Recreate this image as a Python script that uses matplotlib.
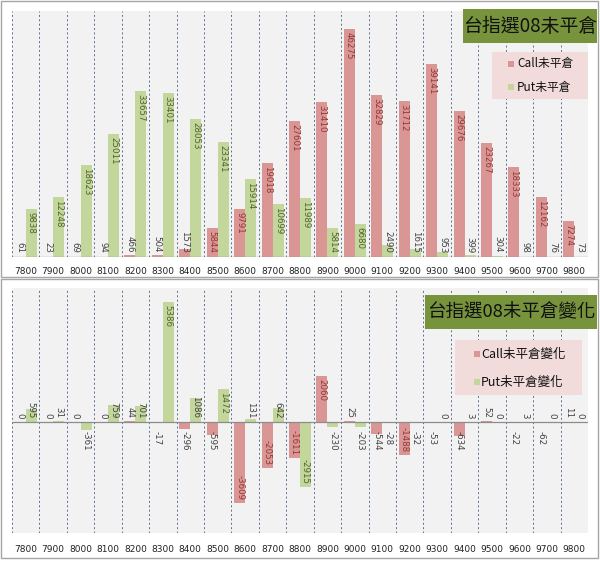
import matplotlib
matplotlib.use("Agg")
import matplotlib.pyplot as plt
from matplotlib.patches import Rectangle
import numpy as np

STRIKES = ["7800", "7900", "8000", "8100", "8200", "8300", "8400", "8500", "8600", "8700",
           "8800", "8900", "9000", "9100", "9200", "9300", "9400", "9500", "9600", "9700", "9800"]
CALL_OI = [61, 23, 69, 94, 466, 504, 1573, 5844, 9791, 19018,
           27601, 31410, 46275, 32829, 31712, 39141, 29676, 23267, 18333, 12162, 7274]
PUT_OI = [9838, 12248, 18623, 25011, 33657, 33401, 28053, 23341, 15914, 10699,
          11989, 5814, 6680, 2490, 1615, 953, 399, 304, 98, 76, 73]
CALL_CHG = [0, 0, 0, 0, 44, -17, -296, -595, -3609, -2053,
            -1611, 2060, 25, -544, -1488, -53, -634, 52, -22, -62, 11]
PUT_CHG = [595, 31, -361, 759, 701, 5386, 1086, 1472, 131, 642,
           -2915, -230, -203, -28, -32, 0, 3, 0, 3, 0, 0]

TITLE_TOP = "台指選08未平倉"
TITLE_BOTTOM = "台指選08未平倉變化"
LEGEND_TOP = ["Call未平倉", "Put未平倉"]
LEGEND_BOTTOM = ["Call未平倉變化", "Put未平倉變化"]

CALL_COLOR = "#DA9694"
PUT_COLOR = "#C3D69B"
CALL_TEXT = "#943634"
PUT_TEXT = "#4F6228"
PLAIN_TEXT = "#404040"
TITLE_FILL = "#77933C"
LEGEND_FILL = "#F2DCDB"
GRID_COLOR = "#5A6F8C"
CJK = ["Noto Sans CJK TC", "DejaVu Sans"]

W, H = 600, 563


def fig_rect(x0, y0, x1, y1):
    # pixel box (top-left origin) -> figure fraction
    return [x0 / W, 1 - y1 / H, (x1 - x0) / W, (y1 - y0) / H]


def px_height(ax, v):
    t = ax.transData
    return abs(t.transform((0, v))[1] - t.transform((0, 0))[1])


def add_bars(ax, values, offset, color, text_color):
    x = np.arange(len(values)) + offset
    ax.bar(x, values, width=0.4, color=color, zorder=3)
    for xi, v in zip(x, values):
        label = str(v)
        need = len(label) * 5 + 5
        if px_height(ax, v) >= need:
            ax.annotate(label, (xi, v), xytext=(0, -3 if v > 0 else 3), textcoords="offset pixels",
                        rotation=270, ha="center", va="top" if v > 0 else "bottom",
                        fontsize=6.2, color=text_color, zorder=4)
        elif v >= 0:
            ax.annotate(label, (xi, 0), xytext=(0, 4), textcoords="offset pixels",
                        rotation=270, ha="center", va="bottom",
                        fontsize=6.2, color=PLAIN_TEXT, zorder=4)
        else:
            ax.annotate(label, (xi, 0), xytext=(0, -9), textcoords="offset pixels",
                        rotation=270, ha="center", va="top",
                        fontsize=6.2, color=PLAIN_TEXT, zorder=4)


def setup_axes(ax, ylim, pad):
    n = len(STRIKES)
    ax.set_facecolor("#F2F2F2")
    ax.set_xlim(-0.5, n - 0.5)
    ax.set_ylim(*ylim)
    for b in np.arange(n + 1) - 0.5:
        ax.axvline(b, color=GRID_COLOR, linestyle=(0, (2, 2.5)), linewidth=0.7, zorder=1)
    ax.axhline(0, color="#8C8C8C", linewidth=0.9, zorder=5)
    for s in ax.spines.values():
        s.set_visible(False)
    ax.set_yticks([])
    ax.set_xticks(np.arange(n))
    ax.set_xticklabels(STRIKES, fontsize=6.5, color="#222222")
    ax.tick_params(axis="x", length=0, pad=pad)


def title_box(fig, box, text, size):
    fig.patches.append(Rectangle(box[:2], box[2], box[3], transform=fig.transFigure,
                                 facecolor=TITLE_FILL, edgecolor="none", zorder=10))
    fig.text(box[0] + box[2] / 2, box[1] + box[3] / 2, text, ha="center", va="center",
             fontsize=size, family=CJK, color="#111111", zorder=11)


def legend_box(fig, box, labels, rows_y, sq_x, txt_x, size):
    fig.patches.append(Rectangle(box[:2], box[2], box[3], transform=fig.transFigure,
                                 facecolor=LEGEND_FILL, edgecolor="none", zorder=10))
    for label, color, yy in zip(labels, [CALL_COLOR, PUT_COLOR], rows_y):
        fig.patches.append(Rectangle(((sq_x - 3) / W, 1 - (yy + 3) / H), 6 / W, 6 / H,
                                     transform=fig.transFigure, facecolor=color,
                                     edgecolor="none", zorder=11))
        fig.text(txt_x / W, 1 - yy / H, label, ha="left", va="center",
                 fontsize=size, family=CJK, color="#111111", zorder=11)


fig = plt.figure(figsize=(6.0, 5.63), dpi=100)

# chart borders
for y0, y1 in [(1, 277), (279, 558)]:
    fig.patches.append(Rectangle((1 / W, 1 - y1 / H), 597 / W, (y1 - y0) / H,
                                 transform=fig.transFigure, facecolor="none",
                                 edgecolor="#A6A6A6", linewidth=1.0))

ax1 = fig.add_axes(fig_rect(12, 11, 588, 257))
setup_axes(ax1, (0, 50000), 7)
add_bars(ax1, CALL_OI, -0.2, CALL_COLOR, CALL_TEXT)
add_bars(ax1, PUT_OI, 0.2, PUT_COLOR, PUT_TEXT)

ax2 = fig.add_axes(fig_rect(12, 288, 588, 533))
setup_axes(ax2, (-4970, 6000), 9)
add_bars(ax2, CALL_CHG, -0.2, CALL_COLOR, CALL_TEXT)
add_bars(ax2, PUT_CHG, 0.2, PUT_COLOR, PUT_TEXT)

title_box(fig, fig_rect(463, 9, 597, 43), TITLE_TOP, 13.6)
legend_box(fig, fig_rect(492, 52, 588, 99), LEGEND_TOP, [64, 87], 511, 517, 8.5)

title_box(fig, fig_rect(425, 295, 597, 329), TITLE_BOTTOM, 13.3)
legend_box(fig, fig_rect(455, 340, 582, 395), LEGEND_BOTTOM, [354, 382], 477, 481, 9)

fig.savefig("out.png", dpi=100, facecolor="white")
plt.close(fig)
